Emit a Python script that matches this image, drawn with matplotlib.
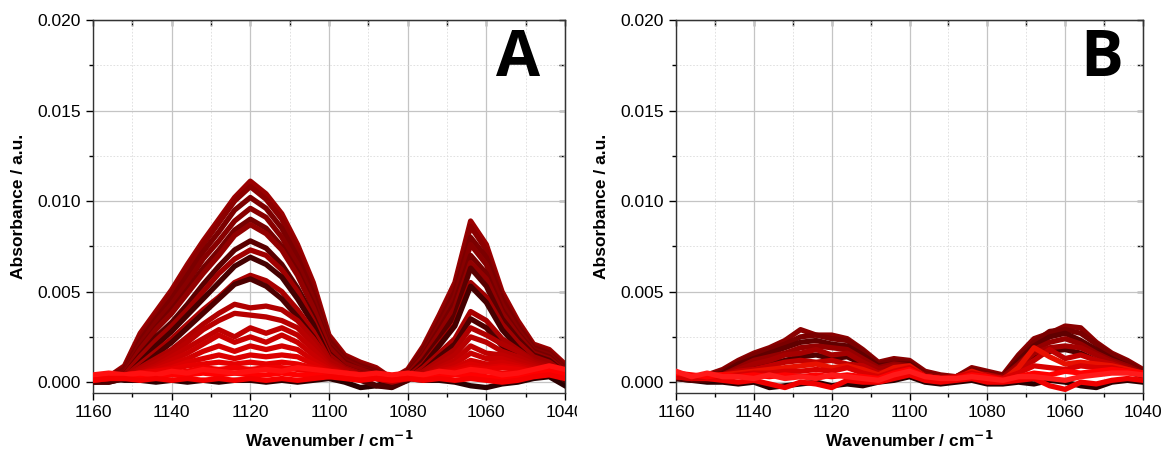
import numpy as np
import matplotlib.pyplot as plt
from matplotlib.ticker import MultipleLocator, FormatStrFormatter
from matplotlib.transforms import Bbox, TransformedBbox

# wavenumber grid, cm-1
wn = [1160, 1156, 1152, 1148, 1144, 1140, 1136, 1132, 1128, 1124, 1120, 1116, 1112, 1108, 1104, 1100,
      1096, 1092, 1088, 1084, 1080, 1076, 1072, 1068, 1064, 1060, 1056, 1052, 1048, 1044, 1040]

# panel A spectra (absorbance x 1e-3)
spec_a = [
    [0.1, 0.2, 0.1, 0.1, 0.0, 0.1, 0.0, 0.1, 0.0, 0.1, 0.1, 0.0, 0.1, 0.0, 0.1, 0.2, 0.0, -0.3, -0.2, 0.1, 0.2, 0.1, 0.1, 0.0, -0.2, -0.3, -0.1, 0.0, 0.2, 0.3, -0.2],
    [0.3, 0.3, 0.9, 2.7, 3.9, 5.1, 6.5, 7.8, 9.0, 10.2, 11.1, 10.4, 9.3, 7.6, 5.5, 2.6, 1.5, 1.1, 0.8, 0.2, 0.7, 2.0, 3.7, 5.5, 8.9, 7.6, 5.0, 3.4, 2.1, 1.8, 1.0],
    [0.2, 0.3, 0.8, 2.5, 3.7, 4.9, 6.3, 7.6, 8.8, 10.0, 10.8, 10.1, 9.0, 7.3, 5.2, 2.4, 1.4, 1.0, 0.7, 0.2, 0.6, 1.9, 3.5, 5.3, 8.6, 7.3, 4.8, 3.2, 2.0, 1.7, 0.9],
    [0.2, 0.3, 0.7, 2.3, 3.5, 4.6, 5.9, 7.2, 8.3, 9.5, 10.2, 9.6, 8.5, 6.9, 4.9, 2.3, 1.3, 0.9, 0.6, 0.1, 0.6, 1.8, 3.3, 5.0, 8.0, 6.9, 4.6, 3.1, 1.9, 1.6, 0.8],
    [0.1, 0.2, 0.6, 2.1, 3.3, 4.3, 5.5, 6.8, 7.8, 8.9, 9.6, 9.1, 8.0, 6.5, 4.6, 2.1, 1.2, 0.8, 0.5, 0.1, 0.5, 1.6, 3.1, 4.7, 7.6, 6.5, 4.3, 2.9, 1.8, 1.5, 0.7],
    [0.1, 0.2, 0.5, 1.9, 3.0, 4.0, 5.1, 6.3, 7.3, 8.4, 9.0, 8.5, 7.5, 6.1, 4.3, 2.0, 1.1, 0.7, 0.5, 0.0, 0.5, 1.5, 2.9, 4.4, 7.0, 6.0, 4.0, 2.7, 1.7, 1.4, 0.6],
    [0.1, 0.2, 0.5, 1.8, 2.9, 3.8, 4.9, 6.0, 7.0, 8.1, 8.7, 8.2, 7.3, 5.9, 4.1, 1.9, 1.0, 0.7, 0.4, 0.0, 0.4, 1.4, 2.7, 4.1, 6.6, 5.7, 3.8, 2.6, 1.6, 1.3, 0.6],
    [0.0, 0.1, 0.4, 1.5, 2.5, 3.3, 4.3, 5.4, 6.4, 7.3, 7.8, 7.4, 6.5, 5.2, 3.6, 1.6, 0.8, 0.5, 0.3, -0.1, 0.3, 1.2, 2.4, 3.7, 6.3, 5.3, 3.5, 2.4, 1.5, 1.2, 0.5],
    [0.1, 0.1, 0.4, 1.4, 2.3, 3.1, 4.0, 5.0, 6.0, 6.8, 7.3, 7.0, 6.2, 5.0, 3.4, 1.5, 0.8, 0.5, 0.3, 0.0, 0.3, 1.0, 2.1, 3.2, 5.5, 4.7, 3.2, 2.2, 1.4, 1.1, 0.5],
    [0.0, 0.0, 0.2, 1.1, 2.0, 2.8, 3.7, 4.6, 5.5, 6.4, 6.9, 6.5, 5.8, 4.6, 3.2, 1.3, 0.6, 0.2, -0.2, -0.3, 0.1, 0.9, 2.0, 3.1, 5.3, 4.4, 2.9, 1.9, 1.1, 0.8, 0.2],
    [0.1, 0.1, 0.3, 1.0, 1.7, 2.4, 3.2, 4.0, 4.7, 5.5, 5.9, 5.6, 5.0, 4.0, 2.8, 1.3, 0.7, 0.4, 0.2, 0.0, 0.2, 0.8, 1.6, 2.4, 3.9, 3.4, 2.4, 1.8, 1.2, 0.9, 0.4],
    [0.0, 0.0, 0.2, 0.8, 1.5, 2.2, 3.0, 3.8, 4.6, 5.4, 5.7, 5.3, 4.6, 3.6, 2.5, 1.0, 0.4, 0.1, -0.2, -0.2, 0.1, 0.6, 1.4, 2.1, 3.5, 3.0, 2.0, 1.4, 0.9, 0.6, 0.1],
    [0.1, 0.2, 0.3, 0.8, 1.3, 1.8, 2.5, 3.2, 3.8, 4.3, 4.1, 4.2, 4.0, 3.4, 2.4, 1.2, 0.7, 0.4, 0.2, 0.0, 0.2, 0.6, 1.2, 1.8, 3.0, 2.6, 2.1, 1.7, 1.1, 0.8, 0.3],
    [0.1, 0.2, 0.3, 0.7, 1.1, 1.6, 2.2, 2.9, 3.4, 3.8, 3.7, 3.6, 3.4, 3.0, 2.1, 1.0, 0.6, 0.4, 0.2, 0.1, 0.2, 0.5, 1.0, 1.5, 2.5, 2.2, 1.7, 1.4, 1.0, 0.7, 0.3],
    [0.2, 0.2, 0.3, 0.6, 0.9, 1.4, 1.9, 2.4, 2.9, 2.5, 3.0, 2.7, 3.0, 2.6, 1.8, 0.9, 0.5, 0.4, 0.3, 0.1, 0.2, 0.4, 0.8, 1.2, 2.0, 1.6, 1.5, 1.2, 0.9, 0.6, 0.3],
    [0.2, 0.3, 0.3, 0.5, 0.8, 1.2, 1.6, 2.1, 2.6, 2.2, 2.5, 2.2, 2.6, 2.2, 1.5, 0.8, 0.5, 0.4, 0.3, 0.2, 0.2, 0.4, 0.7, 1.0, 1.6, 1.3, 1.3, 1.0, 0.8, 0.6, 0.3],
    [0.2, 0.3, 0.3, 0.5, 0.7, 1.0, 1.3, 1.7, 2.0, 1.7, 2.0, 1.8, 2.0, 1.8, 1.2, 0.7, 0.5, 0.4, 0.3, 0.2, 0.3, 0.4, 0.6, 0.8, 1.2, 1.0, 1.1, 0.9, 0.7, 0.6, 0.3],
    [0.3, 0.3, 0.4, 0.5, 0.6, 0.8, 1.1, 1.3, 1.5, 1.3, 1.5, 1.4, 1.5, 1.4, 1.0, 0.6, 0.5, 0.4, 0.4, 0.3, 0.3, 0.4, 0.5, 0.7, 1.0, 0.8, 0.9, 0.8, 0.6, 0.6, 0.4],
    [0.3, 0.4, 0.4, 0.5, 0.6, 0.7, 0.9, 1.0, 1.1, 1.0, 1.1, 1.0, 1.1, 1.0, 0.8, 0.6, 0.5, 0.4, 0.4, 0.3, 0.3, 0.4, 0.5, 0.6, 0.8, 0.7, 0.8, 0.7, 0.6, 0.7, 0.4],
    [0.3, 0.4, 0.3, 0.4, 0.5, 0.5, 0.6, 0.8, 0.7, 0.8, 0.7, 0.8, 0.8, 0.7, 0.6, 0.5, 0.4, 0.4, 0.3, 0.3, 0.4, 0.4, 0.4, 0.5, 0.6, 0.6, 0.5, 0.5, 0.6, 0.8, 0.5],
    [0.2, 0.3, 0.2, 0.3, 0.3, 0.4, 0.4, 0.5, 0.4, 0.5, 0.4, 0.4, 0.5, 0.4, 0.4, 0.3, 0.4, 0.3, 0.3, 0.2, 0.3, 0.3, 0.3, 0.4, 0.4, 0.3, 0.2, 0.3, 0.5, 0.6, 0.4],
    [0.4, 0.5, 0.4, 0.5, 0.4, 0.6, 0.5, 0.7, 0.6, 0.5, 0.6, 0.7, 0.6, 0.8, 0.7, 0.6, 0.5, 0.4, 0.5, 0.4, 0.5, 0.4, 0.6, 0.5, 0.7, 0.6, 0.4, 0.5, 0.7, 0.9, 0.7],
    [0.1, 0.2, 0.2, 0.1, 0.2, 0.1, 0.2, 0.1, 0.2, 0.1, 0.2, 0.1, 0.2, 0.1, 0.2, 0.3, 0.2, 0.1, 0.2, 0.1, 0.2, 0.1, 0.2, 0.1, 0.2, 0.1, 0.0, 0.1, 0.3, 0.4, 0.2],
]
colors_a = ['#2a0000', '#9a0000', '#8c0000', '#7c0000', '#880000', '#760000', '#920000', '#5a0000',
            '#a00000', '#450000', '#a80000', '#4d0000', '#b00000', '#b80000', '#c00000', '#c80000',
            '#d20000', '#dc0000', '#e60000', '#f00000', '#ff0000', '#ff1010', '#f50000']

# panel B spectra (absorbance x 1e-3)
spec_b = [
    [0.2, 0.1, 0.0, 0.0, -0.1, 0.0, -0.3, -0.2, -0.1, 0.0, -0.2, -0.1, -0.2, 0.0, 0.1, 0.3, 0.0, -0.1, 0.0, 0.1, -0.1, -0.1, 0.0, -0.1, 0.1, 0.0, -0.2, -0.3, 0.0, 0.1, 0.0],
    [0.5, 0.3, 0.4, 0.7, 1.2, 1.6, 1.9, 2.3, 2.9, 2.6, 2.6, 2.4, 1.8, 1.1, 1.3, 1.2, 0.6, 0.4, 0.3, 0.8, 0.6, 0.4, 1.5, 2.4, 2.7, 3.1, 3.0, 2.2, 1.6, 1.2, 0.7],
    [0.4, 0.3, 0.3, 0.6, 1.1, 1.5, 1.8, 2.1, 2.5, 2.6, 2.4, 2.3, 1.7, 1.0, 1.2, 1.1, 0.5, 0.3, 0.3, 0.7, 0.5, 0.3, 1.4, 2.2, 2.8, 2.9, 2.7, 2.1, 1.5, 1.1, 0.6],
    [0.3, 0.2, 0.2, 0.5, 1.0, 1.3, 1.6, 1.9, 2.2, 2.3, 2.1, 2.0, 1.5, 0.9, 1.0, 1.0, 0.4, 0.3, 0.2, 0.6, 0.4, 0.3, 1.2, 2.0, 2.5, 2.7, 2.3, 1.8, 1.3, 0.9, 0.5],
    [0.3, 0.2, 0.3, 0.4, 0.8, 1.2, 1.4, 1.6, 1.9, 2.0, 1.9, 1.8, 1.3, 0.8, 1.0, 0.9, 0.4, 0.3, 0.3, 0.6, 0.4, 0.3, 1.0, 1.8, 2.2, 2.4, 2.1, 1.6, 1.2, 0.9, 0.5],
    [0.2, 0.1, 0.1, 0.3, 0.6, 0.9, 1.0, 1.2, 1.4, 1.5, 1.3, 1.4, 1.0, 0.6, 0.8, 0.7, 0.2, 0.1, 0.1, 0.4, 0.3, 0.2, 0.8, 1.4, 1.7, 1.8, 1.6, 1.2, 0.9, 0.6, 0.3],
    [0.4, 0.3, 0.2, 0.4, 0.7, 1.0, 1.2, 1.5, 1.6, 1.8, 1.5, 1.6, 1.1, 0.7, 0.9, 0.8, 0.3, 0.2, 0.2, 0.5, 0.3, 0.2, 0.9, 1.6, 1.9, 2.0, 1.9, 1.5, 1.1, 0.8, 0.4],
    [0.5, 0.3, 0.3, 0.4, 0.6, 0.7, 0.9, 1.1, 1.2, 1.1, 1.2, 1.0, 0.9, 0.5, 0.7, 0.8, 0.3, 0.2, 0.2, 0.5, 0.4, 0.2, 0.7, 1.2, 1.8, 1.3, 1.5, 1.2, 1.0, 0.7, 0.4],
    [0.4, 0.3, 0.4, 0.4, 0.5, 0.6, 0.7, 0.8, 0.9, 1.0, 0.8, 0.9, 0.7, 0.4, 0.8, 0.9, 0.3, 0.2, 0.2, 0.6, 0.3, 0.1, 0.8, 1.9, 1.4, 1.0, 1.1, 1.0, 0.9, 0.7, 0.5],
    [0.3, 0.2, 0.2, 0.1, 0.0, 0.1, -0.1, -0.3, 0.0, -0.1, -0.3, 0.1, 0.0, 0.0, 0.2, 0.4, 0.1, 0.0, 0.1, 0.2, 0.0, 0.0, 0.1, 0.2, -0.2, -0.4, 0.0, -0.1, 0.1, 0.2, 0.1],
    [0.3, 0.2, 0.3, 0.3, 0.4, 0.5, 0.5, 0.6, 0.6, 0.7, 0.6, 0.8, 0.5, 0.3, 0.6, 0.8, 0.3, 0.2, 0.3, 0.5, 0.3, 0.2, 0.5, 0.9, 0.8, 0.7, 0.9, 0.8, 0.8, 0.6, 0.4],
    [0.5, 0.4, 0.3, 0.4, 0.3, 0.4, 0.3, 0.4, 0.3, 0.4, 0.3, 0.4, 0.3, 0.2, 0.5, 0.7, 0.3, 0.2, 0.2, 0.4, 0.3, 0.1, 0.3, 0.5, 0.4, 0.6, 0.5, 0.6, 0.7, 0.6, 0.5],
    [0.6, 0.3, 0.5, 0.3, 0.3, 0.2, 0.4, 0.2, 0.3, 0.2, 0.4, 0.3, 0.2, 0.1, 0.4, 0.6, 0.3, 0.2, 0.2, 0.3, 0.2, 0.1, 0.3, 0.3, 0.2, 0.1, 0.3, 0.4, 0.5, 0.5, 0.4],
]
colors_b = ['#2a0000', '#8a0000', '#7a0000', '#600000', '#950000', '#500000', '#a50000', '#c00000',
            '#e81000', '#f00000', '#d80000', '#ff0000', '#ff1a1a']

panel_labels = ['A', 'B']

fig = plt.figure(figsize=(11.63, 4.5), dpi=100)
ax_a = fig.add_axes([93 / 1163, 57 / 450, 472 / 1163, 373 / 450])
ax_b = fig.add_axes([676 / 1163, 57 / 450, 467 / 1163, 373 / 450])

lab_font = dict(family='Liberation Sans', size=12.5, weight='bold')

for ax, spec, cols in [(ax_a, spec_a, colors_a), (ax_b, spec_b, colors_b)]:
    for s, c in zip(spec, cols):
        ax.plot(wn, np.array(s) * 1e-3, color=c, lw=3.8, solid_joinstyle='round', zorder=3)
    ax.set_xlim(1160, 1040)
    ax.set_ylim(-0.0006, 0.020)
    ax.xaxis.set_major_locator(MultipleLocator(20))
    ax.xaxis.set_minor_locator(MultipleLocator(10))
    ax.yaxis.set_major_locator(MultipleLocator(0.005))
    ax.yaxis.set_minor_locator(MultipleLocator(0.0025))
    ax.yaxis.set_major_formatter(FormatStrFormatter('%.3f'))
    ax.grid(which='major', color='#c4c4c4', lw=0.9, zorder=0)
    ax.grid(which='minor', color='#dcdcdc', lw=0.6, ls=(0, (2, 2)), zorder=0)
    ax.tick_params(which='both', direction='out', labelsize=12.5, width=1.0)
    ax.tick_params(which='major', length=5)
    ax.tick_params(which='minor', length=3)
    for lab in ax.get_xticklabels() + ax.get_yticklabels():
        lab.set_family('Liberation Sans')
    for sp in ax.spines.values():
        sp.set_linewidth(1.0)
        sp.set_color('#333333')
    ax.set_xlabel('Wavenumber / cm$^{\\mathbf{-1}}$', labelpad=7, **lab_font)
    ax.set_ylabel('Absorbance / a.u.', labelpad=8, **lab_font)

    # inward ticks on top and right
    sec_x = ax.secondary_xaxis('top')
    sec_x.set_xticks(np.arange(1040, 1161, 10))
    sec_x.tick_params(direction='in', length=4, width=1.0, labeltop=False)
    sec_y = ax.secondary_yaxis('right')
    sec_y.set_yticks(np.arange(0, 0.0201, 0.0025))
    sec_y.tick_params(direction='in', length=4, width=1.0, labelright=False)

fig.text(518 / 1163, 1 - 60 / 450, panel_labels[0], family='Open Sans', weight='bold',
         size=46, ha='center', va='center')
fig.text(1102 / 1163, 1 - 60 / 450, panel_labels[1], family='Open Sans', weight='bold',
         size=46, ha='center', va='center')

# the left panel was cut from a wider figure: its last x label is clipped
fig.canvas.draw()
clip = TransformedBbox(Bbox([[0, 0], [577 / 1163, 1]]), fig.transFigure)
for lab in ax_a.get_xticklabels():
    lab.set_clip_box(clip)
    lab.set_clip_on(True)

fig.savefig('out.png', dpi=100)
